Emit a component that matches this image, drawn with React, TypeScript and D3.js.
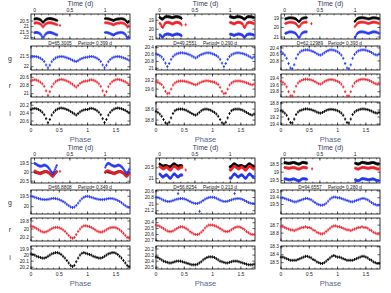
import React from 'react';
import * as d3 from 'd3';

const W = 391;
const H = 293;

// per-star info
const periods = [0.399, 0.29, 0.393, 0.349, 0.213, 0.28];
const dLabels = ['D=65.3005', 'D=49.2551', 'D=62.12989', 'D=66.8808', 'D=56.8254', 'D=94.6557'];
const phaseZero = [0, 0.06, 0.67, 0, 0, 0];

// folded light curves, magnitudes at phase k/30
const g1 = [21.56, 21.54, 21.53, 21.54, 21.57, 21.61, 21.67, 21.76, 21.92, 22.05, 21.93, 21.77, 21.67, 21.6, 21.56, 21.54, 21.53, 21.54, 21.56, 21.59, 21.62, 21.66, 21.7, 21.74, 21.76, 21.72, 21.66, 21.62, 21.59, 21.57];
const r1 = [20.69, 20.67, 20.66, 20.67, 20.69, 20.72, 20.76, 20.82, 20.93, 21.04, 20.95, 20.83, 20.76, 20.71, 20.68, 20.66, 20.65, 20.66, 20.67, 20.69, 20.71, 20.74, 20.77, 20.81, 20.84, 20.8, 20.75, 20.72, 20.7, 20.69];
const i1 = [20.31, 20.29, 20.28, 20.29, 20.31, 20.34, 20.38, 20.44, 20.54, 20.64, 20.56, 20.45, 20.38, 20.33, 20.3, 20.28, 20.27, 20.28, 20.29, 20.31, 20.33, 20.36, 20.39, 20.42, 20.45, 20.41, 20.37, 20.34, 20.32, 20.31];

const g2 = [20.58, 20.6, 20.63, 20.67, 20.74, 20.85, 20.95, 20.86, 20.74, 20.66, 20.61, 20.58, 20.56, 20.55, 20.55, 20.56, 20.57, 20.59, 20.61, 20.64, 20.67, 20.7, 20.67, 20.63, 20.6, 20.58, 20.56, 20.55, 20.55, 20.56];
const r2 = [19.28, 19.3, 19.34, 19.4, 19.52, 19.7, 19.8, 19.78, 19.6, 19.42, 19.33, 19.28, 19.25, 19.24, 19.24, 19.25, 19.27, 19.29, 19.32, 19.35, 19.39, 19.41, 19.38, 19.33, 19.29, 19.26, 19.24, 19.23, 19.24, 19.26];
const i2 = [18.64, 18.66, 18.69, 18.73, 18.79, 18.85, 18.87, 18.84, 18.76, 18.68, 18.63, 18.61, 18.6, 18.6, 18.6, 18.61, 18.62, 18.64, 18.66, 18.68, 18.7, 18.71, 18.69, 18.66, 18.63, 18.61, 18.6, 18.6, 18.61, 18.62];

const g3 = [20.52, 20.56, 20.62, 20.72, 20.88, 21.02, 21.04, 20.92, 20.72, 20.6, 20.53, 20.49, 20.47, 20.46, 20.46, 20.47, 20.49, 20.51, 20.54, 20.58, 20.61, 20.62, 20.59, 20.55, 20.51, 20.48, 20.46, 20.46, 20.47, 20.49];
const r3 = [19.5, 19.53, 19.58, 19.66, 19.8, 19.92, 19.92, 19.8, 19.64, 19.55, 19.5, 19.47, 19.45, 19.44, 19.44, 19.45, 19.46, 19.48, 19.51, 19.54, 19.57, 19.58, 19.55, 19.51, 19.48, 19.46, 19.45, 19.45, 19.46, 19.48];
const i3 = [19.02, 19.05, 19.09, 19.15, 19.26, 19.36, 19.37, 19.26, 19.13, 19.06, 19.02, 19.0, 18.98, 18.97, 18.97, 18.98, 18.99, 19.01, 19.03, 19.06, 19.08, 19.09, 19.07, 19.04, 19.01, 18.99, 18.98, 18.98, 18.99, 19.0];

const g4 = [19.5, 19.52, 19.55, 19.58, 19.61, 19.63, 19.65, 19.66, 19.66, 19.65, 19.63, 19.61, 19.6, 19.61, 19.63, 19.66, 19.7, 19.75, 19.81, 19.88, 19.95, 20.01, 20.04, 20.02, 19.94, 19.83, 19.72, 19.62, 19.55, 19.51];
const r4 = [19.93, 19.94, 19.96, 19.99, 20.02, 20.05, 20.07, 20.08, 20.07, 20.05, 20.02, 19.99, 19.97, 19.96, 19.96, 19.97, 19.99, 20.02, 20.06, 20.11, 20.16, 20.21, 20.23, 20.21, 20.14, 20.06, 20.0, 19.95, 19.92, 19.92];
const i4 = [19.98, 19.99, 20.0, 20.02, 20.03, 20.04, 20.05, 20.05, 20.04, 20.02, 20.0, 19.98, 19.97, 19.96, 19.96, 19.97, 19.99, 20.02, 20.05, 20.09, 20.13, 20.17, 20.19, 20.17, 20.11, 20.05, 20.0, 19.97, 19.96, 19.97];

const g5 = [20.79, 20.8, 20.82, 20.85, 20.88, 20.9, 20.92, 20.92, 20.91, 20.89, 20.87, 20.85, 20.84, 20.83, 20.83, 20.84, 20.86, 20.89, 20.92, 20.95, 20.97, 20.98, 20.98, 20.96, 20.93, 20.89, 20.85, 20.82, 20.8, 20.79];
const r5 = [20.44, 20.45, 20.46, 20.48, 20.5, 20.52, 20.54, 20.55, 20.55, 20.54, 20.52, 20.5, 20.48, 20.47, 20.47, 20.48, 20.5, 20.52, 20.55, 20.57, 20.59, 20.6, 20.6, 20.59, 20.56, 20.53, 20.49, 20.46, 20.44, 20.44];
const i5 = [20.33, 20.34, 20.36, 20.38, 20.4, 20.41, 20.42, 20.43, 20.43, 20.42, 20.41, 20.4, 20.4, 20.4, 20.41, 20.42, 20.43, 20.44, 20.45, 20.46, 20.46, 20.46, 20.45, 20.43, 20.41, 20.38, 20.36, 20.34, 20.33, 20.33];
const g5OutPhase = [0.39, 0.77];
const g5OutMag = [20.68, 21.22];

const g6 = [19.4, 19.4, 19.41, 19.42, 19.43, 19.44, 19.45, 19.46, 19.46, 19.45, 19.44, 19.43, 19.42, 19.41, 19.41, 19.42, 19.43, 19.45, 19.47, 19.49, 19.5, 19.51, 19.51, 19.5, 19.48, 19.45, 19.42, 19.4, 19.39, 19.39];
const r6 = [18.72, 18.72, 18.73, 18.74, 18.75, 18.76, 18.76, 18.77, 18.76, 18.75, 18.74, 18.73, 18.73, 18.72, 18.73, 18.73, 18.74, 18.76, 18.77, 18.79, 18.8, 18.81, 18.81, 18.8, 18.78, 18.76, 18.74, 18.72, 18.71, 18.71];
const i6 = [18.43, 18.43, 18.44, 18.45, 18.46, 18.47, 18.47, 18.47, 18.47, 18.46, 18.45, 18.44, 18.43, 18.42, 18.42, 18.43, 18.44, 18.46, 18.47, 18.49, 18.5, 18.51, 18.51, 18.5, 18.48, 18.46, 18.44, 18.42, 18.41, 18.42];

// lone red point after the first night
const strayTime = [0.36, 0.37, 0.38, 0.36, 0.37, 0.39];
const strayMag = [20.9, 19.5, 19.6, 19.95, 20.6, 18.8];

// axis ranges and ticks
const topDom = [[19.86, 22.13], [18.3, 21.1], [18.58, 21.21], [19.2, 20.6], [20.05, 21.2], [18.15, 19.65]];
const gDom = [[21.05, 22.15], [20.35, 21.05], [20.34, 21.08], [19.2, 20.35], [20.57, 21.3], [19.285, 19.64]];
const rDom = [[20.52, 21.08], [18.93, 19.95], [19.29, 19.95], [19.725, 20.3], [20.32, 20.71], [18.61, 18.9]];
const iDom = [[20.12, 20.7], [18.47, 18.89], [18.77, 19.43], [19.85, 20.23], [20.15, 20.53], [18.29, 18.58]];
const topTicks = [[20.5, 21, 21.5, 22], [19, 20, 21], [19, 20, 21], [19.5, 20, 20.5], [20.5, 21], [18.5, 19, 19.5]];
const gTicks = [[21.5, 22], [20.4, 20.6, 20.8, 21], [20.4, 20.6, 20.8], [19.5, 20], [20.6, 20.8, 21, 21.2], [19.3, 19.4, 19.5]];
const rTicks = [[20.6, 20.8, 21], [19.2, 19.6], [19.4, 19.6, 19.8], [19.8, 20, 20.2], [20.4, 20.5, 20.6, 20.7], [18.7, 18.8]];
const iTicks = [[20.2, 20.4, 20.6], [18.6, 18.8], [18.8, 19, 19.2, 19.4], [19.9, 20, 20.1, 20.2], [20.2, 20.3, 20.4, 20.5], [18.3, 18.4, 18.5]];
const timeTicks = [0, 0.5, 1];
const phaseTicks = [0, 0.5, 1, 1.5];

const gBands = [g1, g2, g3, g4, g5, g6];
const rBands = [r1, r2, r3, r4, r5, r6];
const iBands = [i1, i2, i3, i4, i5, i6];

const BLUE = '#2438f2';
const RED = '#f0202a';
const BLACK = '#000';
const FONT = 'Liberation Sans, Arial, sans-serif';

const App: React.FC = () => {
  const svgRef = React.useRef<SVGSVGElement>(null);

  React.useEffect(() => {
    if (!svgRef.current) return;
    const svg = d3.select(svgRef.current);
    svg.selectAll('*').remove();
    svg.append('rect').attr('width', W).attr('height', H).attr('fill', '#fff');

    const colX = [31, 156, 281];
    const boxW = 99;
    const rowShift = 144;
    const rows = { top: [14, 39], g: [46, 70], r: [74, 97], i: [102, 125] };

    // small "+" markers: point with its error bar
    const markPath = (pts: [number, number][]) =>
      pts.map(([x, y]) => `M${x - 1.15},${y}h2.3M${x},${y - 1.5}v3`).join('');

    const foldPts = (mags: number[]) => {
      const out: [number, number][] = [];
      [0, 1].forEach(c => {
        mags.forEach((m, k) => {
          const ph = k / mags.length + c;
          if (ph <= 1.75) out.push([ph, m]);
        });
      });
      return out;
    };

    const timePts = (mags: number[], P: number, phi0: number) => {
      const out: [number, number][] = [];
      const N = mags.length;
      for (let n = -1; (n - 1) * P < 1.5; n++) {
        mags.forEach((m, k) => {
          const t = (k / N + n - phi0) * P;
          if ((t >= 0 && t <= 0.32) || (t >= 0.99 && t <= 1.34)) out.push([t, m]);
        });
      }
      return out;
    };

    const yLabels = (
      g: d3.Selection<SVGGElement, unknown, null, undefined>,
      y: d3.ScaleLinear<number, number>,
      ticks: number[],
      x0: number,
      x1: number
    ) => {
      ticks.forEach(v => {
        const py = y(v);
        g.append('path').attr('d', `M${x0},${py}h2.6M${x1},${py}h-2.6`).attr('stroke', '#000').attr('stroke-width', 0.6);
        g.append('text').attr('x', x0 - 2).attr('y', py + 1.7).attr('text-anchor', 'end')
          .attr('font-size', 4.8).attr('font-family', FONT).attr('fill', '#222').text(String(v));
      });
    };

    const drawFrame = (
      g: d3.Selection<SVGGElement, unknown, null, undefined>,
      x: d3.ScaleLinear<number, number>,
      yTop: number,
      yBot: number,
      xMajor: number[],
      xMinor: number[]
    ) => {
      const [x0, x1] = x.range();
      g.append('rect')
        .attr('x', x0).attr('y', yTop)
        .attr('width', x1 - x0).attr('height', yBot - yTop)
        .attr('fill', 'none').attr('stroke', '#000').attr('stroke-width', 0.8);
      let d = '';
      xMajor.forEach(v => { const px = x(v); d += `M${px},${yTop}v2.6M${px},${yBot}v-2.6`; });
      xMinor.forEach(v => { const px = x(v); d += `M${px},${yTop}v1.3M${px},${yBot}v-1.3`; });
      g.append('path').attr('d', d).attr('stroke', '#000').attr('stroke-width', 0.6).attr('fill', 'none');
    };

    for (let idx = 0; idx < 6; idx++) {
      const col = idx % 3;
      const dy = Math.floor(idx / 3) * rowShift;
      const x0 = colX[col];
      const pg = svg.append('g');

      // time series panel (magnitudes: brighter on top)
      const tTop = rows.top[0] + dy;
      const tBot = rows.top[1] + dy;
      const tx = d3.scaleLinear().domain([-0.05, 1.35]).range([x0, x0 + boxW]);
      const ty = d3.scaleLinear().domain(topDom[idx]).range([tTop, tBot]);
      drawFrame(pg, tx, tTop, tBot, timeTicks, d3.range(0, 1.31, 0.1));
      yLabels(pg, ty, topTicks[idx], x0, x0 + boxW);
      timeTicks.forEach(v => {
        pg.append('text').attr('x', tx(v)).attr('y', tTop - 2)
          .attr('text-anchor', 'middle').attr('font-size', 5).attr('font-family', FONT)
          .attr('fill', '#222').text(String(v));
      });
      pg.append('text').attr('x', x0 + boxW / 2).attr('y', tTop - 8.5)
        .attr('text-anchor', 'middle').attr('font-size', 7).attr('font-family', FONT)
        .attr('fill', '#3a3a5c').text('Time (d)');

      const P = periods[idx];
      const phi0 = phaseZero[idx];
      const bandSet: [number[], string][] = [[iBands[idx], BLACK], [rBands[idx], RED], [gBands[idx], BLUE]];
      bandSet.forEach(([mags, color]) => {
        const pts = timePts(mags, P, phi0).map(([t, m]) => [tx(t), ty(m)] as [number, number]);
        pg.append('path').attr('d', markPath(pts)).attr('stroke', color).attr('stroke-width', 0.9).attr('fill', 'none');
      });
      pg.append('path')
        .attr('d', markPath([[tx(strayTime[idx]), ty(strayMag[idx])]]))
        .attr('stroke', RED).attr('stroke-width', 0.9);

      // folded panels
      const px = d3.scaleLinear().domain([0, 1.75]).range([x0, x0 + boxW]);
      const phaseMinor = d3.range(0, 1.76, 0.1);
      const folded: [string, number[], number[], number[], string, number[]][] = [
        ['g', rows.g, gDom[idx], gTicks[idx], BLUE, gBands[idx]],
        ['r', rows.r, rDom[idx], rTicks[idx], RED, rBands[idx]],
        ['i', rows.i, iDom[idx], iTicks[idx], BLACK, iBands[idx]],
      ];
      folded.forEach(([band, rr, dom, ticks, color, mags]) => {
        const yTop = rr[0] + dy;
        const yBot = rr[1] + dy;
        const yMag = d3.scaleLinear().domain(dom).range([yTop, yBot]);
        drawFrame(pg, px, yTop, yBot, phaseTicks, phaseMinor);
        yLabels(pg, yMag, ticks, x0, x0 + boxW);
        const pts = foldPts(mags);
        if (band === 'g' && idx === 4) {
          g5OutPhase.forEach((ph, k) => {
            [0, 1].forEach(c => { if (ph + c <= 1.75) pts.push([ph + c, g5OutMag[k]]); });
          });
        }
        const xy = pts.map(([ph, m]) => [px(ph), yMag(m)] as [number, number]);
        pg.append('path').attr('d', markPath(xy)).attr('stroke', color).attr('stroke-width', 0.9).attr('fill', 'none');

        if (col === 0) {
          pg.append('text').attr('x', 10).attr('y', (yTop + yBot) / 2 + 2.5)
            .attr('text-anchor', 'middle').attr('font-size', 7).attr('font-family', FONT)
            .attr('fill', '#333').text(band);
        }
        if (band === 'i') {
          phaseTicks.forEach(v => {
            pg.append('text').attr('x', px(v)).attr('y', yBot + 6.5)
              .attr('text-anchor', 'middle').attr('font-size', 5).attr('font-family', FONT)
              .attr('fill', '#222').text(String(v));
          });
          pg.append('text').attr('x', x0 + boxW / 2).attr('y', yBot + 17)
            .attr('text-anchor', 'middle').attr('font-size', 7.5).attr('font-family', FONT)
            .attr('fill', '#56658c').text('Phase');
        }
      });

      // star label above the g panel
      pg.append('text').attr('x', x0 + 29).attr('y', rows.g[0] + dy - 1.5)
        .attr('text-anchor', 'middle').attr('font-size', 4.8).attr('font-family', FONT)
        .attr('fill', '#222').text(dLabels[idx]);
      pg.append('text').attr('x', x0 + 64).attr('y', rows.g[0] + dy - 1.5)
        .attr('text-anchor', 'middle').attr('font-size', 4.8).attr('font-family', FONT)
        .attr('fill', '#222').text(`Period= ${periods[idx].toFixed(3)} d`);
    }
  }, []);

  return (
    <svg
      ref={svgRef}
      width={W}
      height={H}
      style={{ position: 'absolute', left: 0, top: 0 }}
    />
  );
};

export default App;
